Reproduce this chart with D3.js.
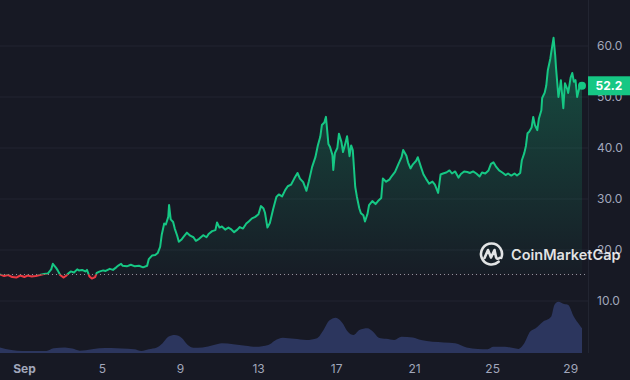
<!DOCTYPE html>
<html>
<head>
<meta charset="utf-8">
<script src="https://cdn.jsdelivr.net/npm/d3@7"></script>
<style>
	html, body { margin: 0; padding: 0; background: #171924; }
	svg { display: block; font-family: Inter, "Noto Sans", sans-serif; }
</style>
</head>
<body>
<div id="chart"></div>
<script>
// Price data, hours counted from the first sample (Aug 30 18:30)
const priceHours = [0, 5, 10, 15, 20, 25, 30, 34, 39, 44, 49, 54, 59, 63, 65, 69, 71, 74, 78, 81,
	84, 87, 91, 95, 97, 101, 105, 107, 110, 113, 117, 119, 123, 127, 130, 135, 139, 143, 146, 149,
	151, 156, 161, 166, 171, 176, 181, 183, 187, 191, 194, 197, 199, 202, 204, 207, 208, 210, 213, 215,
	218, 220, 223, 226, 230, 234, 238, 241, 245, 250, 254, 257, 261, 265, 267, 270, 273, 277, 281, 284,
	288, 292, 295, 299, 303, 306, 310, 314, 318, 321, 324, 326, 329, 332, 336, 340, 343, 347, 351, 354,
	358, 362, 366, 369, 373, 377, 380, 384, 388, 391, 394, 396, 399, 401, 404, 406, 409, 410, 412, 415,
	417, 420, 422, 425, 427, 430, 432, 434, 437, 439, 442, 444, 447, 449, 452, 454, 458, 462, 465, 469,
	471, 475, 479, 482, 486, 490, 494, 496, 500, 502, 505, 508, 512, 514, 518, 521, 524, 528, 532, 535,
	539, 542, 545, 549, 553, 556, 560, 564, 567, 571, 575, 578, 582, 586, 590, 593, 597, 601, 604, 607,
	610, 614, 618, 622, 625, 629, 633, 636, 640, 642, 645, 647, 649, 651, 654, 656, 658, 661, 663, 666,
	667, 670, 672, 674, 677, 678, 681, 683, 684, 687, 689, 690, 693, 695, 698, 699, 702, 704, 706, 708,
	710, 713, 714, 716];
const prices = [15.2, 14.9, 15.1, 14.7, 14.6, 15.0, 14.7, 15.0, 14.8, 14.9, 15.1, 15.3, 15.4, 16.2, 17.3, 16.5, 16.0, 15.1, 14.6, 14.9,
	15.4, 15.8, 15.6, 16.2, 16.0, 16.1, 15.8, 16.1, 14.8, 14.4, 14.7, 15.5, 15.8, 16.0, 15.9, 16.3, 16.1, 16.6, 17.0, 17.3,
	16.9, 16.8, 17.1, 16.8, 16.9, 16.6, 16.9, 18.2, 18.9, 19.0, 19.4, 20.6, 23.0, 25.2, 25.0, 26.5, 28.8, 26.0, 25.5, 24.2,
	22.8, 21.6, 22.0, 22.6, 23.4, 22.8, 22.5, 21.8, 22.2, 22.9, 22.5, 23.2, 23.7, 23.9, 25.4, 24.4, 24.6, 24.0, 24.4, 24.1,
	23.5, 24.0, 24.5, 24.2, 25.2, 25.6, 26.2, 26.5, 27.0, 28.6, 28.2, 27.3, 24.4, 25.3, 28.0, 30.4, 30.9, 30.5, 31.8, 32.5,
	32.8, 34.0, 35.1, 34.0, 33.3, 31.6, 33.5, 36.3, 38.2, 40.5, 42.2, 44.5, 45.0, 46.1, 40.8, 40.2, 38.6, 35.7, 39.0, 40.0,
	42.8, 41.2, 39.2, 41.0, 42.3, 38.4, 40.5, 39.6, 32.4, 30.5, 28.2, 27.2, 26.8, 25.6, 27.0, 28.8, 29.6, 29.0, 29.6, 30.2,
	34.0, 33.4, 33.8, 34.5, 35.3, 36.8, 38.2, 39.6, 38.5, 37.2, 36.0, 36.8, 37.5, 38.2, 36.2, 34.8, 34.0, 33.0, 33.4, 32.8,
	31.2, 34.8, 35.0, 35.2, 35.6, 35.0, 35.4, 34.2, 34.9, 35.4, 35.3, 35.1, 35.4, 35.0, 34.4, 35.2, 35.0, 35.6, 36.9, 37.2,
	36.4, 35.6, 35.2, 34.7, 35.0, 34.6, 35.0, 34.6, 35.1, 37.6, 39.0, 40.4, 42.9, 43.2, 44.0, 46.1, 44.5, 43.5, 45.8, 47.4,
	49.8, 50.8, 52.2, 55.3, 57.5, 58.6, 61.6, 58.2, 55.8, 50.0, 52.0, 53.3, 47.8, 52.7, 51.5, 50.8, 53.8, 54.7, 53.0, 53.3,
	50.0, 52.0, 52.7, 52.2];

// Volume data (millions), same hour offsets
const volumeHours = [0, 14, 28, 57, 66, 80, 89, 98, 113, 122, 137, 150, 165, 174, 183, 193, 200, 207, 215, 224,
	231, 238, 249, 263, 273, 287, 302, 315, 330, 338, 348, 362, 377, 390, 398, 405, 413, 421, 428, 435,
	442, 452, 459, 466, 475, 485, 494, 508, 518, 532, 546, 560, 574, 588, 600, 607, 621, 638, 645, 652,
	659, 668, 678, 682, 687, 694, 699, 706, 713, 716];
const volumes = [19, 10, 7, 7, 16, 19, 15, 8, 13, 16, 17, 15, 13, 7, 13, 19, 33, 55, 61, 50,
	27, 18, 19, 27, 33, 30, 25, 21, 27, 42, 52, 48, 44, 50, 78, 110, 120, 103, 72, 61,
	78, 84, 72, 52, 48, 44, 55, 53, 44, 38, 36, 33, 19, 14, 13, 21, 21, 14, 33, 72,
	84, 106, 123, 163, 174, 166, 163, 123, 95, 84];

const priceTicks = [10, 20, 30, 40, 50, 60];
const startTime = new Date(2023, 7, 30, 18, 30);

const svgWidth = 630;
const svgHeight = 380;
const plotRight = 588;
const lineEnd = 582;
const volBottom = 353;

const green = "#16c784";
const red = "#ea3943";
const gridColor = "#222531";
const labelColor = "#a1a7bb";

const priceData = prices.map((p, i) => ({ t: d3.timeHour.offset(startTime, priceHours[i]), v: p }));
const volumeData = volumes.map((v, i) => ({ t: d3.timeHour.offset(startTime, volumeHours[i]), v: v }));
const basePrice = prices[0];
const lastPrice = prices[prices.length - 1];

const svg = d3.select("#chart")
	.append("svg")
	.attr("width", svgWidth)
	.attr("height", svgHeight);

svg.append("rect")
	.attr("width", svgWidth)
	.attr("height", svgHeight)
	.attr("fill", "#171924");

// Scales
const xScale = d3.scaleTime()
	.domain([startTime, d3.timeHour.offset(startTime, priceHours[priceHours.length - 1])])
	.range([0, lineEnd]);

const yScale = d3.scaleLinear()
	.domain([10, 60])
	.range([301, 46]);

const volScale = d3.scaleLinear()
	.domain([0, 180])
	.range([volBottom, 300]);

const baseY = yScale(basePrice);

// Grid lines
svg.append("g")
	.selectAll("line")
	.data(priceTicks)
	.enter()
	.append("line")
	.attr("x1", 0)
	.attr("x2", plotRight)
	.attr("y1", d => yScale(d))
	.attr("y2", d => yScale(d))
	.attr("stroke", gridColor)
	.attr("stroke-width", 1);

svg.append("line")
	.attr("x1", plotRight + 0.5)
	.attr("x2", plotRight + 0.5)
	.attr("y1", 0)
	.attr("y2", volBottom)
	.attr("stroke", gridColor);

// Volume area
const volArea = d3.area()
	.x(d => xScale(d.t))
	.y0(volBottom)
	.y1(d => volScale(d.v))
	.curve(d3.curveMonotoneX);

svg.append("path")
	.datum(volumeData)
	.attr("d", volArea)
	.attr("fill", "#2c365e");

// Clip paths for above / below the opening price
const defs = svg.append("defs");
defs.append("clipPath").attr("id", "clipAbove")
	.append("rect").attr("x", 0).attr("y", 0).attr("width", svgWidth).attr("height", baseY);
defs.append("clipPath").attr("id", "clipBelow")
	.append("rect").attr("x", 0).attr("y", baseY).attr("width", svgWidth).attr("height", svgHeight - baseY);

const grad = defs.append("linearGradient")
	.attr("id", "greenFill")
	.attr("gradientUnits", "userSpaceOnUse")
	.attr("x1", 0).attr("x2", 0)
	.attr("y1", yScale(d3.max(prices)))
	.attr("y2", baseY);
grad.append("stop").attr("offset", "0%").attr("stop-color", green).attr("stop-opacity", 0.32);
grad.append("stop").attr("offset", "100%").attr("stop-color", green).attr("stop-opacity", 0.02);

const priceArea = d3.area()
	.x(d => xScale(d.t))
	.y0(baseY)
	.y1(d => yScale(d.v));

const priceLine = d3.line()
	.x(d => xScale(d.t))
	.y(d => yScale(d.v));

svg.append("path")
	.datum(priceData)
	.attr("d", priceArea)
	.attr("fill", "url(#greenFill)")
	.attr("clip-path", "url(#clipAbove)");

svg.append("path")
	.datum(priceData)
	.attr("d", priceArea)
	.attr("fill", red)
	.attr("fill-opacity", 0.12)
	.attr("clip-path", "url(#clipBelow)");

// Dotted opening price line
svg.append("line")
	.attr("x1", 0)
	.attr("x2", plotRight)
	.attr("y1", baseY)
	.attr("y2", baseY)
	.attr("stroke", "#c8ccd8")
	.attr("stroke-opacity", 0.7)
	.attr("stroke-width", 1)
	.attr("stroke-dasharray", "1,3");

svg.append("path")
	.datum(priceData)
	.attr("d", priceLine)
	.attr("fill", "none")
	.attr("stroke", green)
	.attr("stroke-width", 2)
	.attr("stroke-linejoin", "round")
	.attr("clip-path", "url(#clipAbove)");

svg.append("path")
	.datum(priceData)
	.attr("d", priceLine)
	.attr("fill", "none")
	.attr("stroke", red)
	.attr("stroke-width", 2)
	.attr("stroke-linejoin", "round")
	.attr("clip-path", "url(#clipBelow)");

// Last point dot
svg.append("circle")
	.attr("cx", xScale(priceData[priceData.length - 1].t))
	.attr("cy", yScale(lastPrice))
	.attr("r", 4)
	.attr("fill", green);

// Axes
const rightAxis = d3.axisRight(yScale)
	.tickValues(priceTicks)
	.tickFormat(d3.format(".1f"))
	.tickSize(0)
	.tickPadding(9);

const yAxis = svg.append("g")
	.attr("transform", `translate(${plotRight}, 0)`)
	.call(rightAxis);
yAxis.select(".domain").remove();
yAxis.selectAll("text")
	.attr("fill", labelColor)
	.attr("font-size", 12)
	.attr("font-family", "Inter, sans-serif");

const bottomAxis = d3.axisBottom(xScale)
	.ticks(d3.timeDay.every(4))
	.tickFormat(d => d.getDate() === 1 ? d3.timeFormat("%b")(d) : d3.timeFormat("%-d")(d))
	.tickSize(0)
	.tickPadding(11);

const xAxis = svg.append("g")
	.attr("transform", `translate(0, ${volBottom})`)
	.call(bottomAxis);
xAxis.select(".domain").remove();
xAxis.selectAll("text")
	.attr("fill", labelColor)
	.attr("font-size", 12)
	.attr("font-family", "Inter, sans-serif")
	.attr("font-weight", d => d.getDate() === 1 ? 700 : 400);

// Current price tag (sits over the 50.0 label, as in the original)
const tagY = yScale(lastPrice);
svg.append("rect")
	.attr("x", plotRight)
	.attr("y", tagY - 9.5)
	.attr("width", svgWidth - plotRight)
	.attr("height", 19)
	.attr("fill", green);
svg.append("text")
	.attr("x", (plotRight + svgWidth) / 2)
	.attr("y", tagY)
	.attr("dy", "0.35em")
	.attr("text-anchor", "middle")
	.attr("fill", "#ffffff")
	.attr("font-size", 12)
	.attr("font-weight", 700)
	.text(lastPrice.toFixed(1));

// CoinMarketCap watermark
const mark = svg.append("g")
	.attr("transform", "translate(491.5, 254)")
	.attr("fill", "none")
	.attr("stroke", "#ffffff")
	.attr("stroke-opacity", 0.88)
	.attr("stroke-width", 2.6)
	.attr("stroke-linecap", "round")
	.attr("stroke-linejoin", "round");
mark.append("path")
	.attr("d", d3.arc()({ innerRadius: 10.5, outerRadius: 10.5, startAngle: 2.4, endAngle: 2 * Math.PI + 1.95 }));
mark.append("path")
	.attr("d", "M-7,4 L-3.5,-4 L-0.5,3.5 L3,-4 L4.5,3 Q5.5,6 8,4");

svg.append("text")
	.attr("x", 511)
	.attr("y", 260)
	.attr("fill", "#ffffff")
	.attr("fill-opacity", 0.88)
	.attr("font-size", 14.5)
	.attr("font-weight", 600)
	.text("CoinMarketCap");
</script>
</body>
</html>
